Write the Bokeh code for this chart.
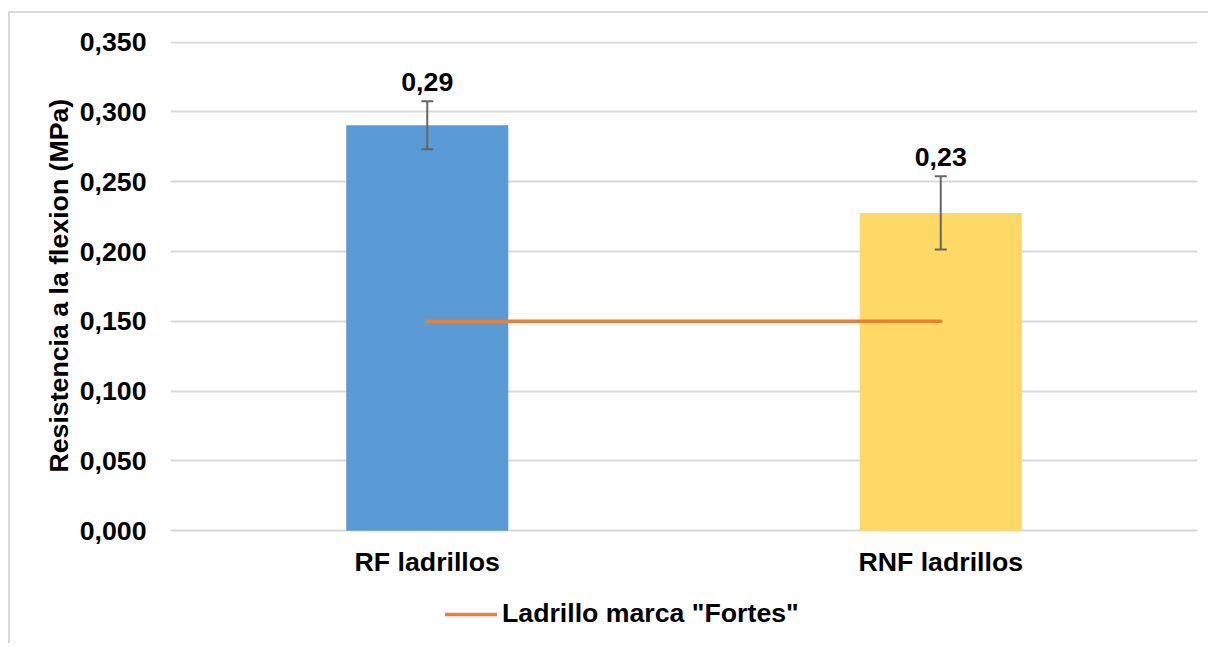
from bokeh.plotting import figure
from bokeh.models import (ColumnDataSource, Whisker, Legend, LegendItem, Range1d,
                          FixedTicker, CustomJSTickFormatter, Title)
from bokeh.core.properties import value
from bokeh.embed import file_html
from bokeh.resources import INLINE

categories = ["RF ladrillos", "RNF ladrillos"]
values = [0.2905, 0.2277]
errors = [0.0172, 0.0262]
labels = ["0,29", "0,23"]
colors = ["#5B9BD5", "#FFD966"]
ref_values = [0.15, 0.15]
ref_name = 'Ladrillo marca "Fortes"'
y_title = "Resistencia a la flexion (MPa)"
y_ticks = [0.0, 0.05, 0.10, 0.15, 0.20, 0.25, 0.30, 0.35]

FONT = "Liberation Sans"
FS = "26.7px"

src = ColumnDataSource(dict(
    x=categories, top=values,
    upper=[v + e for v, e in zip(values, errors)],
    lower=[v - e for v, e in zip(values, errors)],
    label=labels, color=colors,
))

p = figure(x_range=categories, y_range=Range1d(-0.0823, 0.3505),
           width=1200, height=632, output_backend="svg", toolbar_location=None,
           min_border_left=160, min_border_right=13, min_border_top=28,
           min_border_bottom=0)
p.styles = {"margin-left": "8px", "margin-top": "11px",
            "border-left": "2px solid #d9d9d9", "border-top": "2px solid #d9d9d9"}
p.outline_line_color = None
p.background_fill_color = "white"
p.border_fill_color = "white"

p.vbar(x="x", top="top", width=0.3155, color="color", source=src, line_color=None)

w = Whisker(source=src, base="x", upper="upper", lower="lower",
            line_color="#666666", line_width=2, level="annotation")
w.upper_head.line_color = "#666666"
w.lower_head.line_color = "#666666"
w.upper_head.line_width = 2
w.lower_head.line_width = 2
w.upper_head.size = 12
w.lower_head.size = 12
p.add_layout(w)

ref = p.line(x=categories, y=ref_values, line_color="#ED7D31", line_width=3.5,
             line_cap="round")

p.text(x="x", y="upper", text="label", source=src, text_align="center",
       text_baseline="bottom", y_offset=-10, text_font=value(FONT),
       text_font_style="bold", text_font_size=FS, text_color="black")

p.yaxis.ticker = FixedTicker(ticks=y_ticks)
p.yaxis.formatter = CustomJSTickFormatter(code="return tick.toFixed(3).replace('.', ',');")
p.xaxis.fixed_location = 0
for ax in (p.xaxis, p.yaxis):
    ax.axis_line_color = None
    ax.major_tick_line_color = None
    ax.minor_tick_line_color = None
    ax.major_tick_in = 0
    ax.major_tick_out = 0
    ax.major_label_text_font = FONT
    ax.major_label_text_font_style = "bold"
    ax.major_label_text_font_size = FS
    ax.major_label_text_color = "black"
p.yaxis.major_label_standoff = 24
p.xaxis.major_label_standoff = 16

yt = Title(text=y_title, align="left", offset=173, standoff=6,
           text_font=FONT, text_font_style="bold", text_font_size=FS,
           text_color="black")
p.add_layout(yt, "left")

p.xgrid.grid_line_color = None
p.ygrid.grid_line_color = "#d9d9d9"
p.ygrid.grid_line_width = 2

legend = Legend(items=[LegendItem(label=ref_name, renderers=[ref])],
                location=(275, 16), orientation="horizontal",
                label_text_font=FONT, label_text_font_style="bold",
                label_text_font_size=FS, label_text_color="black",
                glyph_width=52, label_standoff=5,
                background_fill_alpha=0, border_line_color=None, padding=0, margin=0)
p.add_layout(legend, "center")

open("out.html", "w").write(file_html(p, INLINE))
